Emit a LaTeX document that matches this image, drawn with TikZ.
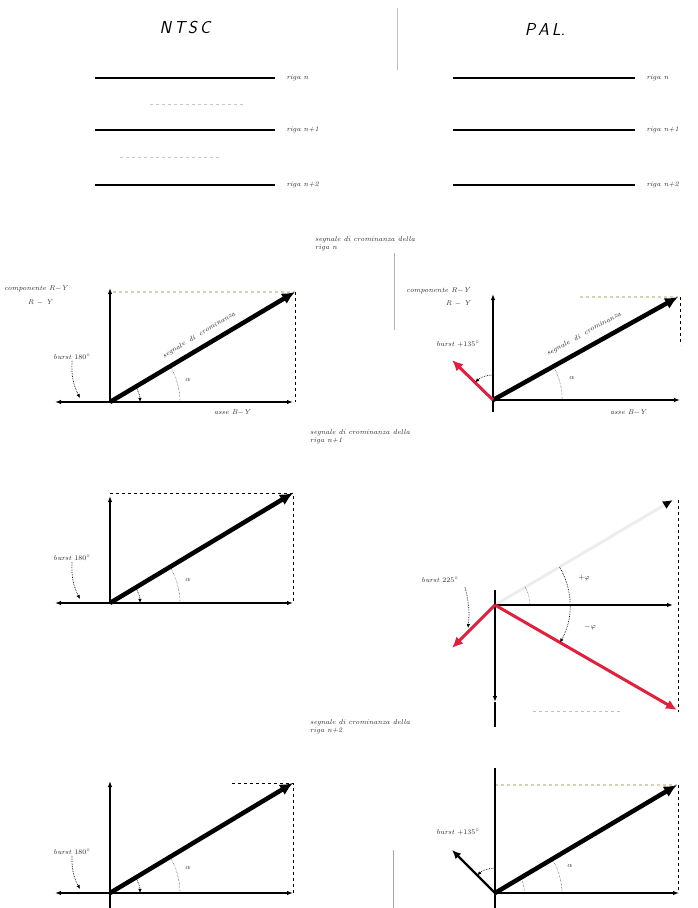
\documentclass[tikz,border=0pt]{standalone}
\usepackage{tikz}
\usetikzlibrary{arrows.meta,positioning}
\definecolor{vecred}{HTML}{E0203C}
\definecolor{guidetan}{HTML}{D6D2B4}
\definecolor{ghostgray}{HTML}{EDEDED}

\begin{document}
\begin{tikzpicture}[x=1pt,y=-1pt,>=Latex,font=\scriptsize\itshape]

\tikzset{
axis/.style={line width=1.3pt,-{Latex[length=6pt,width=4.5pt]}},
axisboth/.style={line width=1.3pt,{Latex[length=6pt,width=4.5pt]}-{Latex[length=6pt,width=4.5pt]}},
vec/.style={line width=4.5pt,-{Latex[length=13pt,width=12pt]}},
redvec/.style={line width=3pt,color=vecred,-{Latex[length=11pt,width=10pt]}},
burstvec/.style={line width=2.2pt,-{Latex[length=9pt,width=8pt]}},
guide/.style={dashed,line width=0.9pt},
faint/.style={dashed,line width=1.1pt,color=guidetan},
angarc/.style={densely dotted,line width=0.7pt,-{Latex[length=4pt,width=3.5pt]}},
lbl/.style={inner sep=1pt,text=black!85},
rowline/.style={line width=1.3pt}
}

\useasboundingbox (0,0) rectangle (697,908);

\node[font=\LARGE\sffamily\itshape] (ntsc) at (185,28) {N\,T\,S\,C};
\node[font=\LARGE\sffamily\itshape] (pal) at (545,30) {P\,A\,L.};
\draw[gray!50,line width=0.8pt] (397,8) -- (397,70);

\foreach \y/\t [count=\i] in {78/riga n,130/riga n+1,185/riga n+2} {
  \draw[rowline] (95,\y) -- (275,\y) node[lbl,right=10pt] (nrow\i) {\t};
  \draw[rowline] (453,\y) -- (635,\y) node[lbl,right=10pt] (prow\i) {\t};
}
\draw[dashed,gray!45] (150,104) -- (245,104);
\draw[dashed,gray!45] (120,157) -- (220,157);

% NTSC, riga n
\coordinate (no1) at (110,402);
\coordinate (nt1) at (295,292);
\draw[faint] (113,292) -- (nt1);
\draw[guide] (nt1) -- (295,402);
\draw[axis] (no1) -- (110,288);
\draw[axisboth] (55,402) -- (293,402);
\draw[vec] (no1) -- (nt1);
\node[lbl,rotate=31] at (199,335) {segnale\hspace{5pt}di\hspace{5pt}crominanza};
\node[lbl,anchor=west] (ncomp1) at (3,289) {componente R$-$Y};
\node[lbl] (nry1) at (40,303) {R $-$ Y};
\node[lbl] (nburst1) at (72,357) {burst $180^\circ$};
\draw[angarc] (nburst1.south) to[bend right=15] (80,398);
\draw[angarc] (135.7,386.5) arc[start angle=-31,end angle=0,radius=30];
\draw[densely dotted] (170,366) arc[start angle=-31,end angle=0,radius=70];
\node[lbl] (nalpha1) at (188,380) {$\alpha$};
\node[lbl] (naxis1) at (232,413) {asse B$-$Y};

% NTSC, riga n+1
\coordinate (no2) at (110,603);
\coordinate (nt2) at (293,493);
\draw[guide] (no2 |- nt2) -- (nt2) -- (293,603);
\draw[axis] (no2) -- (110,496);
\draw[axisboth] (55,603) -- (293,603);
\draw[vec] (no2) -- (nt2);
\node[lbl] (nburst2) at (72,558) {burst $180^\circ$};
\draw[angarc] (nburst2.south) to[bend right=15] (80,599);
\draw[angarc] (135.7,587.5) arc[start angle=-31,end angle=0,radius=30];
\draw[densely dotted] (170,567) arc[start angle=-31,end angle=0,radius=70];
\node[lbl] (nalpha2) at (188,580) {$\alpha$};

% NTSC, riga n+2
\coordinate (no3) at (110,893);
\coordinate (nt3) at (293,783);
\draw[guide] (232,783) -- (nt3) -- (293,893);
\draw[line width=1.3pt] (no3) -- (110,908);
\draw[axis] (no3) -- (110,781);
\draw[axisboth] (55,893) -- (293,893);
\draw[vec] (no3) -- (nt3);
\node[lbl] (nburst3) at (72,852) {burst $180^\circ$};
\draw[angarc] (nburst3.south) to[bend right=15] (80,889);
\draw[angarc] (135.7,877.5) arc[start angle=-31,end angle=0,radius=30];
\draw[densely dotted] (170,857) arc[start angle=-31,end angle=0,radius=70];
\node[lbl] (nalpha3) at (188,868) {$\alpha$};

% PAL, riga n
\coordinate (po1) at (493,400);
\coordinate (pt1) at (678,297);
\draw[gray!60,line width=0.8pt] (394,253) -- (394,330);
\node[lbl,align=left,anchor=west] (phead1) at (314,244) {segnale di crominanza della\\riga n};
\draw[faint] (580,297) -- (pt1);
\draw[guide] (680,297) -- (680,345);
\draw[line width=1.3pt] (po1) -- (493,412);
\draw[axis] (po1) -- (493,294);
\draw[axis] (po1) -- (680,400);
\draw[vec] (po1) -- (pt1);
\draw[redvec] (po1) -- (452,360);
\node[lbl,rotate=29] at (584,334) {segnale\hspace{5pt}di\hspace{5pt}crominanza};
\node[lbl] (pcomp1) at (438,291) {componente R$-$Y};
\node[lbl] (pry1) at (458,304) {R $-$ Y};
\node[lbl] (pburst1) at (458,344) {burst $+135^\circ$};
\draw[angarc] (493,375) arc[start angle=-90,end angle=-135,radius=25];
\draw[densely dotted] (553.5,366.5) arc[start angle=-29,end angle=0,radius=70];
\node[lbl] (palpha1) at (572,378) {$\alpha$};
\node[lbl] (paxis1) at (628,413) {asse B$-$Y};
\node[lbl,align=left,anchor=west] (phead2) at (309,437) {segnale di crominanza della\\riga n+1};

% PAL, riga n+1
\coordinate (po2) at (495,605);
\coordinate (pg2) at (673,500);
\coordinate (pt2) at (677,710);
\draw[line width=3pt,ghostgray,-{Latex[length=10pt,width=9pt,color=black]}] (po2) -- (pg2);
\draw[guide] (678,500) -- (678,712);
\draw[dashed,gray!50] (533,711) -- (620,711);
\draw[axis] (po2) -- (673,605);
\draw[line width=1.3pt] (495,702) -- (495,727);
\draw[axis] (495,590) -- (495,702);
\draw[redvec] (po2) -- (pt2);
\draw[redvec] (po2) -- (452,648);
\node[lbl] (pburst2) at (440,580) {burst $225^\circ$};
\draw[angarc] (465,587) to[bend left=10] (468,628);
\draw[angarc] (559.6,567) arc[start angle=-30.5,end angle=30,radius=75];
\draw[densely dotted] (530,605) arc[start angle=0,end angle=-30.5,radius=35];
\node[lbl] (pphi2a) at (584,578) {$+\varphi$};
\node[lbl] (pphi2b) at (590,627) {$-\varphi$};
\node[lbl,align=left,anchor=west] (phead3) at (309,727) {segnale di crominanza della\\riga n+2};

% PAL, riga n+2
\coordinate (po3) at (495,893);
\coordinate (pt3) at (677,785);
\draw[faint] (po3 |- pt3) -- (pt3);
\draw[guide] (678,785) -- (678,893);
\draw[line width=1.3pt] (495,768) -- (495,908);
\draw[axis] (po3) -- (679,893);
\draw[vec] (po3) -- (pt3);
\draw[burstvec] (po3) -- (452,850);
\node[lbl] (pburst3) at (458,832) {burst $+135^\circ$};
\draw[angarc] (495,868) arc[start angle=-90,end angle=-135,radius=25];
\draw[densely dotted] (520,876) arc[start angle=-31,end angle=0,radius=30];
\draw[densely dotted] (552.5,859.5) arc[start angle=-31,end angle=0,radius=67];
\node[lbl] (palpha3) at (570,866) {$\alpha$};
\draw[gray!70,line width=0.8pt] (393,850) -- (393,908);

\end{tikzpicture}
\end{document}
